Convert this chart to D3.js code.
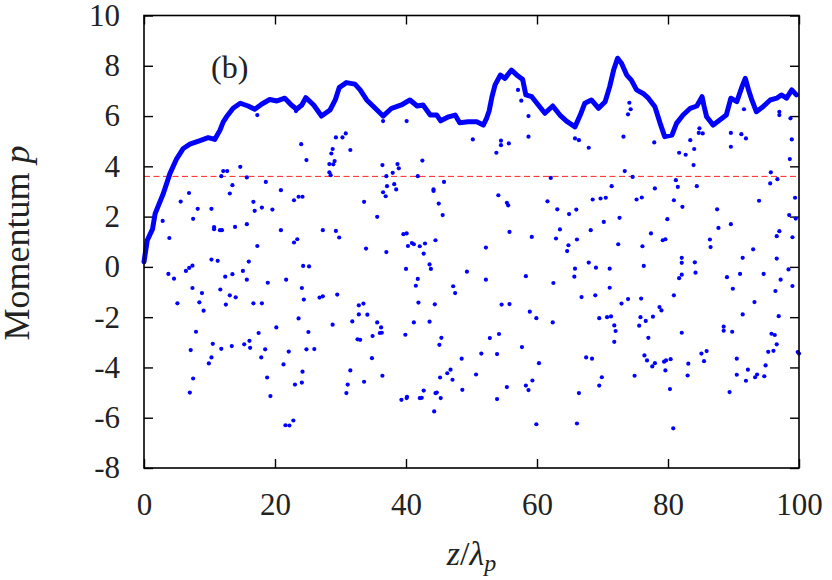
<!DOCTYPE html>
<html>
<head>
<meta charset="utf-8">
<script src="https://cdn.jsdelivr.net/npm/d3@7"></script>
<style>
  body { margin: 0; background: white; }
  svg text { font-family: "Liberation Serif", "DejaVu Serif", serif; }
</style>
</head>
<body>
<div id="chart"></div>
<script>
// upper edge of the phase space (dense run of points), [z, p]
const envelope = [
  [0,0.2],[0.5,1.06],[1.3,1.5],[1.7,2.12],[2.95,2.92],[3.97,3.72],[5.0,4.31],[6.0,4.71],[7.0,4.88],
  [8.55,5.02],[9.8,5.14],[10.8,5.07],[11.6,5.44],[12.1,5.77],[12.6,5.97],[13.6,6.31],[14.7,6.51],
  [15.9,6.40],[16.9,6.27],[18.0,6.48],[19.2,6.66],[20.3,6.60],[21.5,6.71],[22.5,6.44],[23.3,6.27],
  [24.1,6.44],[24.7,6.73],[25.9,6.44],[27.1,6.0],[28.4,6.24],[29.2,6.64],[29.8,7.13],[30.9,7.33],
  [32.2,7.27],[33.0,7.04],[34.0,6.64],[35.3,6.31],[36.5,6.0],[37.8,6.31],[39.3,6.44],[40.6,6.64],
  [41.7,6.40],[42.6,6.44],[43.7,6.04],[44.7,6.04],[45.3,5.81],[46.5,5.97],[47.5,6.04],[48.2,5.73],
  [49.5,5.77],[50.8,5.77],[51.8,5.64],[52.3,5.91],[52.7,6.21],[53.1,6.74],[53.6,7.24],[54.4,7.63],
  [55.1,7.50],[56.1,7.83],[57.1,7.59],[57.8,7.46],[58.3,6.84],[59.2,6.77],[60.2,6.44],[61.2,6.11],
  [62.4,6.40],[63.5,6.04],[64.5,5.8],[65.8,5.57],[66.6,6.04],[67.3,6.51],[68.3,6.64],[69.4,6.31],
  [70.4,6.57],[71.1,7.17],[71.7,7.83],[72.3,8.30],[72.9,8.10],[73.7,7.63],[74.4,7.43],[75.2,7.04],
  [76.2,6.90],[77.0,6.71],[78.0,6.37],[78.8,5.71],[79.5,5.18],[80.6,5.24],[81.3,5.71],[82.3,6.04],
  [83.4,6.31],[84.4,6.40],[85.2,6.77],[85.5,6.40],[85.9,5.97],[86.9,5.64],[87.9,5.84],[88.9,6.04],
  [89.6,6.71],[90.5,6.57],[91.3,7.17],[91.8,7.50],[92.3,7.04],[92.8,6.64],[93.5,6.17],[94.5,6.37],
  [95.6,6.64],[96.6,6.71],[97.3,6.84],[98.1,6.71],[98.9,7.04],[99.6,6.84]
]

// scattered particles, [z, p]
const cloud = [
  [17.3,6.04],[23.2,6.2],[24.0,4.88],[24.8,4.25],[29.3,5.15],[30.3,5.15],[30.8,5.31],[31.5,4.65],
  [28.8,4.69],[28.6,4.51],[29.1,4.21],[28.9,4.08],[28.3,4.09],[28.3,3.76],[28.5,3.65],[12.1,3.81],
  [12.7,3.81],[11.8,3.61],[14.7,3.98],[15.7,3.56],[13.5,3.25],[13.1,2.92],[18.6,3.38],[20.9,3.05],
  [22.9,2.65],[23.6,2.79],[24.2,2.79],[16.7,2.59],[16.9,2.23],[18.0,2.36],[19.6,2.28],[15.7,1.70],
  [13.9,1.59],[10.3,2.31],[8.2,2.31],[7.5,1.91],[6.87,2.94],[5.6,2.6],[2.85,1.83],[3.87,1.15],
  [10.7,1.58],[10.7,1.5],[11.6,1.46],[11.9,1.46],[17.3,0.83],[20.9,1.46],[22.9,0.97],[23.4,1.1],
  [27.3,1.46],[29.3,1.43],[29.8,1.17],
  [3.72,-0.28],[4.58,-0.47],[5.1,-1.45],[6.4,-0.16],[6.9,-0.04],[7.4,0.05],[7.4,-0.84],[8.45,-1.41],
  [8.85,-1.04],[9.1,-1.74],[7.94,-2.58],[7.13,-3.31],[7.5,-4.44],[7.0,-5.0],[10.3,0.29],[11.25,0.24],
  [11.65,-0.9],[12.4,-0.39],[12.5,-1.5],[13.1,-1.13],[13.5,-0.29],[14.0,-1.21],[15.1,-0.16],[15.7,-0.51],
  [16.0,0.21],[16.7,-1.45],[18.0,-1.45],[18.9,-0.63],[10.5,-3.06],[10.3,-3.6],[9.9,-3.84],[11.8,-3.26],
  [13.4,-3.15],[15.3,-3.08],[16.1,-2.94],[16.2,-3.22],[17.5,-2.63],[17.9,-3.6],[18.5,-3.28],[18.8,-4.4],
  [19.3,-5.14],[20.2,-2.41],[21.3,-3.88],[22.1,-3.37],[21.7,-0.51],[21.6,-6.3],[22.2,-6.31],[22.8,-6.11],
  [23.05,-4.68],[24.1,-4.6],[24.2,-4.17],[23.6,-2.05],[24.1,-0.84],[24.4,-1.3],[24.3,0.04],[25.2,0.02],
  [25.1,-2.59],[24.8,-3.28],[26.0,-3.27],[26.8,-1.22],[27.3,-1.17],[28.8,-2.3],[29.5,-1.1],[31.8,-2.17],
  [32.6,-2.88],[32.8,-1.53],[32.8,-1.89],[31.5,-4.12],[31.1,-4.68],[30.9,-5.02],
  [36.5,5.8],[40.1,5.8],[36.4,4.05],[37.97,3.74],[37.0,3.61],[38.7,4.09],[38.9,3.92],[37.1,3.21],
  [38.2,3.29],[38.5,3.08],[36.5,2.97],[36.9,2.81],[41.8,3.61],[42.5,4.23],[44.2,3.08],[44.2,3.02],
  [45.8,3.38],[45.0,2.52],[45.6,2.06],[33.6,2.59],[35.6,1.99],[39.6,1.3],[40.1,1.33],[33.9,0.73],
  [40.3,0.83],[40.9,0.95],[41.2,0.9],[42.1,0.82],[42.9,0.93],[44.5,1.06],[52.2,0.77],[50.2,5.07],
  [53.8,4.54],[54.5,5.02],[54.5,4.84],[55.7,4.91],[57.1,7.04],[57.6,6.61],[58.7,6.0],[58.7,5.18],
  [54.1,2.85],[55.4,2.55],[55.6,2.45],[55.8,1.39],[59.2,1.19],[61.6,2.61],[63.1,2.29],[62.1,3.54],
  [63.5,1.49],[62.9,1.13],[64.9,2.1],[64.8,0.86],
  [42.7,0.53],[37.0,0.59],[40.0,-0.08],[43.6,0.1],[43.8,-0.08],[49.3,-0.19],[52.2,-0.51],[58.3,-0.37],
  [62.5,-0.64],[64.6,0.63],[41.8,-0.48],[41.5,-0.75],[47.2,-0.77],[47.5,-1.04],[41.9,-1.42],[44.4,-1.49],
  [33.5,-1.46],[34.1,-1.9],[35.6,-2.21],[36.2,-2.41],[36.0,-2.63],[36.3,-2.62],[34.9,-2.75],[33.0,-2.9],
  [41.2,-2.21],[43.6,-2.18],[39.9,-2.7],[45.4,-2.82],[45.1,-3.1],[34.8,-3.63],[33.6,-4.57],[36.4,-4.33],
  [39.3,-5.29],[40.1,-5.22],[40.15,-5.17],[42.1,-5.22],[42.4,-5.21],[42.7,-4.92],[44.5,-5.02],[44.7,-5.0],
  [44.3,-5.75],[45.3,-5.22],[45.2,-4.4],[46.3,-4.23],[46.8,-4.09],[47.1,-4.49],[48.5,-3.65],[48.6,-4.89],
  [50.7,-4.28],[51.5,-3.45],[52.8,-2.83],[54.2,-2.67],[53.9,-3.47],[53.9,-5.26],[54.6,-1.5],[55.8,-1.48],
  [57.7,-3.19],[58.9,-1.78],[59.9,-2.04],[60.3,-3.83],[59.3,-4.52],[58.3,-4.72],[58.7,-4.9],[59.9,-6.26],
  [55.4,-4.78],[62.4,-2.21],
  [68.2,1.46],[66.1,1.09],[72.4,0.9],[76.1,0.82],[77.4,1.33],[79.2,1.06],[79.6,1.1],[86.4,1.09],
  [86.5,0.79],[93.0,0.7],[96.6,1.22],[97.0,1.42],[99.0,1.18],[65.8,-0.07],[65.7,-0.39],[67.9,0.17],
  [69.0,-0.03],[71.1,-0.07],[71.1,-0.83],[66.8,-1.2],[68.9,-1.13],[76.3,0.04],[72.9,-1.46],[73.9,-1.28],
  [75.9,-1.26],[69.5,-2.04],[70.7,-2.0],[71.3,-1.97],[71.8,-2.33],[72.0,-2.55],[71.8,-2.98],[75.8,-2.0],
  [75.6,-2.34],[76.6,-2.15],[77.7,-1.98],[78.7,-1.6],[79.0,-1.73],[80.9,-1.13],[77.0,-2.82],[82.1,0.36],
  [82.1,0.16],[82.1,-0.31],[81.7,-0.45],[84.1,0.18],[84.2,-0.23],[82.1,-2.62],[67.5,-3.6],[68.4,-3.65],
  [69.9,-4.39],[69.5,-4.72],[66.4,-5.02],[66.1,-6.23],[74.9,-4.33],[76.4,-3.52],[76.8,-3.72],[77.6,-3.96],
  [78.0,-3.83],[79.4,-3.77],[79.7,-3.72],[80.4,-3.67],[79.6,-4.12],[80.3,-4.86],[80.8,-6.42],[83.1,-3.85],
  [83.0,-4.32],[85.1,-3.45],[85.9,-3.35],[85.5,-3.75],[88.5,-2.38],[88.5,-2.54],[89.8,-2.58],[89.0,-0.41],
  [89.9,-0.87],[91.4,0.36],[91.0,-0.28],[93.2,-1.4],[91.4,-1.89],[94.6,-0.28],[96.6,0.33],[97.2,-0.51],
  [96.4,-0.96],[98.4,-0.1],[99.0,-0.76],[96.9,-1.96],[95.8,-2.66],[96.3,-2.71],[96.6,-3.08],[95.3,-3.38],
  [96.1,-3.34],[99.8,-3.39],[100.0,-3.45],[90.5,-3.65],[90.5,-4.29],[91.9,-4.53],[92.2,-4.09],[93.3,-4.39],
  [93.6,-4.28],[94.7,-4.35],[94.9,-3.92],[89.4,-4.98],
  [74.1,6.53],[74.3,6.27],[73.9,6.07],[73.2,5.18],[65.8,5.11],[66.4,5.04],[67.9,4.74],[77.9,4.95],
  [73.4,3.81],[74.6,3.58],[71.4,3.21],[68.5,2.68],[69.7,2.72],[70.5,2.75],[66.0,2.28],[70.2,1.79],
  [72.6,1.95],[75.2,2.68],[76.0,2.76],[78.0,3.12],[79.9,1.9],[81.2,3.45],[81.5,3.18],[80.9,2.65],
  [82.2,2.39],[81.7,4.54],[82.7,4.46],[83.4,5.04],[84.0,4.69],[83.9,4.05],[84.8,5.51],[84.7,5.33],
  [85.3,5.31],[84.4,3.21],[87.5,2.29],[87.7,1.55],[89.6,1.7],[89.6,5.33],[89.6,4.78],[91.2,5.28],
  [91.9,5.11],[91.6,6.27],[97.0,6.17],[97.0,6.04],[98.7,5.91],[98.9,5.07],[98.6,4.29],[95.7,3.76],
  [95.6,3.32],[96.7,3.49],[93.9,2.63],[99.4,2.75],[98.5,2.06],[99.5,1.92]
]

const threshold = 3.6
const xTicks = [0, 20, 40, 60, 80, 100]
const yTicks = [-8, -6, -4, -2, 0, 2, 4, 6, 8, 10]

function drawPhase() {

    const width = 832
    const height = 580

    const svg = d3.select("#chart")
        .append("svg")
        .attr("width", width)
        .attr("height", height)

    const x = d3.scaleLinear().domain([0, 100]).range([144, 799])
    const y = d3.scaleLinear().domain([-8, 10]).range([468, 15.5])

    const plain = d => String(d)

    // axes, ticks pointing inward on all four sides
    const bottom = svg.append("g")
        .attr("transform", `translate(0,${y(-8)})`)
        .call(d3.axisBottom(x).tickValues(xTicks).tickFormat(plain)
            .tickSizeInner(-9).tickSizeOuter(0).tickPadding(25))
    const left = svg.append("g")
        .attr("transform", `translate(${x(0)},0)`)
        .call(d3.axisLeft(y).tickValues(yTicks).tickFormat(plain)
            .tickSizeInner(-9).tickSizeOuter(0).tickPadding(24))
    const top = svg.append("g")
        .attr("transform", `translate(0,${y(10)})`)
        .call(d3.axisTop(x).tickValues(xTicks).tickSizeInner(-9).tickSizeOuter(0).tickFormat(""))
    const right = svg.append("g")
        .attr("transform", `translate(${x(100)},0)`)
        .call(d3.axisRight(y).tickValues(yTicks).tickSizeInner(-9).tickSizeOuter(0).tickFormat(""))

    for (const g of [bottom, left, top, right]) {
        g.attr("font-family", null).attr("font-size", null)
        g.select(".domain").remove()
        g.selectAll("line").attr("stroke", "#000").attr("stroke-width", 1.4)
        g.selectAll("text")
            .style("font-size", "31px")
            .attr("fill", "#222")
    }

    // red dashed threshold
    svg.append("line")
        .attr("x1", x(0)).attr("x2", x(100))
        .attr("y1", y(threshold)).attr("y2", y(threshold))
        .attr("stroke", "#ff2020")
        .attr("stroke-width", 1)
        .attr("stroke-dasharray", "6,3.5")

    // upper edge, drawn as a thick run of dots
    const line = d3.line()
        .x(d => x(d[0]))
        .y(d => y(d[1]))

    svg.append("path")
        .datum(envelope)
        .attr("d", line)
        .attr("fill", "none")
        .attr("stroke", "#0000ff")
        .attr("stroke-width", 5)
        .attr("stroke-linejoin", "round")
        .attr("stroke-linecap", "round")

    svg.append("g")
        .selectAll("circle")
        .data(cloud)
        .join("circle")
        .attr("cx", d => x(d[0]))
        .attr("cy", d => y(d[1]))
        .attr("r", 2.1)
        .attr("fill", "#0000ff")

    // frame
    svg.append("rect")
        .attr("x", x(0)).attr("y", y(10))
        .attr("width", x(100) - x(0))
        .attr("height", y(-8) - y(10))
        .attr("fill", "none")
        .attr("stroke", "#000")
        .attr("stroke-width", 1.6)

    // panel label
    svg.append("text")
        .attr("x", 211).attr("y", 78)
        .style("font-size", "32px")
        .attr("fill", "#222")
        .text("(b)")

    // axis titles
    const xt = svg.append("text")
        .attr("x", (x(0) + x(100)) / 2)
        .attr("y", 565)
        .attr("text-anchor", "middle")
        .style("font-size", "34px")
        .attr("fill", "#222")
    xt.append("tspan").attr("font-style", "italic").text("z")
    xt.append("tspan").text("/")
    xt.append("tspan").attr("font-style", "italic").text("λ")
    xt.append("tspan").attr("font-style", "italic").style("font-size", "24px").attr("dy", 6).text("p")

    const yt = svg.append("text")
        .attr("transform", "translate(29,243) rotate(-90)")
        .attr("text-anchor", "middle")
        .style("font-size", "36px")
        .attr("fill", "#222")
    yt.append("tspan").text("Momentum ")
    yt.append("tspan").attr("font-style", "italic").text("p")
}

drawPhase()
</script>
</body>
</html>
